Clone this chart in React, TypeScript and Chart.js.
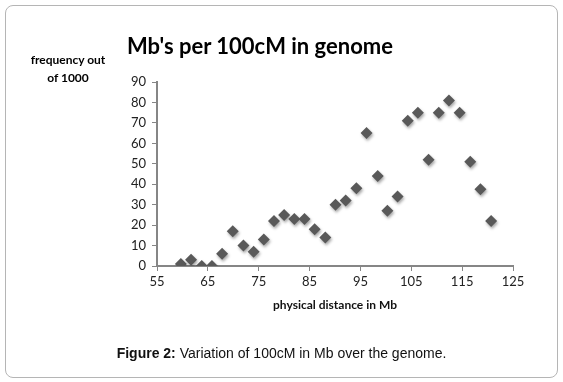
import React, { useEffect, useRef } from "react";
import { Chart, registerables } from "chart.js";

Chart.register(...registerables);

const xValues = [59.7, 61.7, 63.8, 65.8, 67.8, 69.9, 72.0, 74.0, 76.0, 78.0, 80.0, 82.0, 84.0, 86.0, 88.1, 90.1, 92.1, 94.2, 96.2, 98.4, 100.3, 102.3, 104.3, 106.3, 108.4, 110.4, 112.4, 114.5, 116.6, 118.6, 120.7];
const yValues = [1, 3, 0, 0, 6, 17, 10, 7, 13, 22, 25, 23, 23, 18, 14, 30, 32, 38, 65, 44, 27, 34, 71, 75, 52, 75, 81, 75, 51, 37.5, 22];

const chartTitle = "Mb's per 100cM in genome";
const yTitleLines = ["frequency out", "of 1000"];
const xTitle = "physical distance in Mb";
const captionBold = "Figure 2:";
const captionText = " Variation of 100cM in Mb over the genome.";

const FONT = "Lato, 'Open Sans', sans-serif";

const shadowPlugin = {
  id: "markerShadow",
  beforeDatasetsDraw(chart: any) {
    const ctx = chart.ctx;
    ctx.save();
    ctx.shadowColor = "rgba(0,0,0,0.35)";
    ctx.shadowBlur = 3;
    ctx.shadowOffsetX = 1;
    ctx.shadowOffsetY = 2;
  },
  afterDatasetsDraw(chart: any) {
    chart.ctx.restore();
  },
};

export default function App() {
  const ref = useRef<HTMLCanvasElement>(null);
  useEffect(() => {
    if (!ref.current) return;
    const data = xValues.map((x, i) => ({ x, y: yValues[i] }));
    const chart = new Chart(ref.current, {
      type: "scatter",
      data: {
        datasets: [
          {
            data,
            pointStyle: "rectRot",
            pointRadius: 6,
            pointBackgroundColor: "#595959",
            pointBorderColor: "#595959",
            pointBorderWidth: 0,
          },
        ],
      },
      plugins: [shadowPlugin],
      options: {
        animation: false,
        responsive: false,
        devicePixelRatio: 1,
        layout: { padding: { left: 100, right: 50, top: 82, bottom: 70 } },
        plugins: { legend: { display: false }, tooltip: { enabled: false } },
        scales: {
          x: {
            type: "linear",
            min: 55,
            max: 125,
            ticks: { stepSize: 10, color: "#222", font: { family: FONT, size: 13 }, padding: 3, maxRotation: 0 },
            grid: { display: true, drawOnChartArea: false, drawTicks: true, tickLength: 5, color: "#868686", lineWidth: 1 },
            border: { display: true, color: "#868686", width: 2 },
            title: { display: true, text: xTitle, color: "#111", font: { family: FONT, size: 12, weight: "bold" }, padding: { top: 5, bottom: 0 } },
          },
          y: {
            type: "linear",
            min: 0,
            max: 90,
            afterFit(scale: any) {
              scale.width = 57;
            },
            ticks: { stepSize: 10, color: "#222", font: { family: FONT, size: 13 }, padding: 6 },
            grid: { display: true, drawOnChartArea: false, drawTicks: true, tickLength: 5, color: "#868686", lineWidth: 1 },
            border: { display: true, color: "#868686", width: 2 },
          },
        },
      },
    } as any);
    return () => chart.destroy();
  }, []);

  return (
    <div style={{ position: "absolute", left: 0, top: 0, width: 563, height: 382, background: "#fff", overflow: "hidden" }}>
      <div
        style={{
          position: "absolute",
          left: 5,
          top: 5,
          width: 551,
          height: 371,
          border: "1px solid #b5b5b5",
          borderRadius: 8,
          boxSizing: "content-box",
        }}
      />
      <canvas ref={ref} width={563} height={382} style={{ position: "absolute", left: 0, top: 0, width: 563, height: 382 }} />
      <div
        style={{
          position: "absolute",
          left: 110,
          width: 300,
          top: 33,
          textAlign: "center",
          fontFamily: FONT,
          fontWeight: "bold",
          fontSize: 22,
          lineHeight: "26px",
          color: "#000",
          whiteSpace: "nowrap",
        }}
      >
        {chartTitle}
      </div>
      <div
        style={{
          position: "absolute",
          left: 18,
          width: 100,
          top: 51,
          textAlign: "center",
          fontFamily: FONT,
          fontWeight: "bold",
          fontSize: 12,
          lineHeight: "18px",
          color: "#000",
          whiteSpace: "nowrap",
        }}
      >
        {yTitleLines.map((l, i) => (
          <div key={i}>{l}</div>
        ))}
      </div>
      <div
        style={{
          position: "absolute",
          left: 0,
          width: 563,
          top: 344,
          textAlign: "center",
          fontFamily: "'Liberation Sans', Arial, sans-serif",
          fontSize: 14,
          lineHeight: "18px",
          color: "#111",
          whiteSpace: "nowrap",
        }}
      >
        <b>{captionBold}</b>
        {captionText}
      </div>
    </div>
  );
}
